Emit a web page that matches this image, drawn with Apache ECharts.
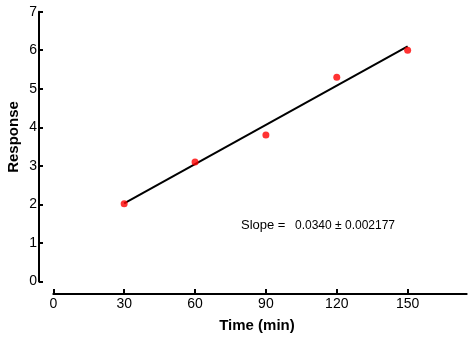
<!DOCTYPE html>
<html><head><meta charset="utf-8">
<script src="https://cdn.jsdelivr.net/npm/echarts@6/dist/echarts.min.js"></script>
<style>html,body{margin:0;padding:0;background:#fff}#c{width:472px;height:341px}</style>
</head><body><div id="c"></div>
<script>
var timeValues = [30, 60, 90, 120, 150];
var responseValues = [2.02, 3.1, 3.8, 5.3, 6.0];
var fitX = [30, 150];
var fitY = [2.03, 6.1];
var xTicks = [0, 30, 60, 90, 120, 150];
var slopeLabel = 'Slope =';
var slopeValue = '0.0340 ± 0.002177';
var xTitle = 'Time (min)';
var yTitle = 'Response';

var font = 'Liberation Sans, Arial, sans-serif';
var chart = echarts.init(document.getElementById('c'), null, {renderer: 'canvas'});
chart.setOption({
  animation: false,
  backgroundColor: '#fff',
  grid: {left: 53.3, right: 5.3, top: 11.7, bottom: 59.5, containLabel: false, outerBoundsMode: 'none'},
  xAxis: {
    type: 'value', min: 0, max: 175, offset: 12.5,
    name: xTitle, nameLocation: 'middle', nameGap: 24,
    nameTextStyle: {fontFamily: font, fontSize: 15, fontWeight: 'bold', color: '#000', padding: [0, 6, 0, 0]},
    axisLine: {show: true, onZero: false, lineStyle: {color: '#000', width: 2}},
    axisTick: {show: true, inside: true, length: 5, lineStyle: {color: '#000', width: 2}, customValues: xTicks},
    axisLabel: {color: '#000', fontFamily: font, fontSize: 14, margin: 3, customValues: xTicks},
    splitLine: {show: false}
  },
  yAxis: {
    type: 'value', min: 0, max: 7, interval: 1, offset: 14.3,
    axisLine: {show: true, onZero: false, lineStyle: {color: '#000', width: 2}},
    axisTick: {show: true, inside: true, length: 4, lineStyle: {color: '#000', width: 2}},
    axisLabel: {color: '#000', fontFamily: font, fontSize: 14, margin: 2},
    splitLine: {show: false}
  },
  series: [
    {type: 'line', data: fitX.map(function (x, i) { return [x, fitY[i]]; }),
     showSymbol: false, symbol: 'none', lineStyle: {color: '#000', width: 2}, z: 2},
    {type: 'scatter', data: timeValues.map(function (x, i) { return [x, responseValues[i]]; }),
     symbolSize: 7, itemStyle: {color: '#ff0000'}, z: 3}
  ],
  graphic: [
    {type: 'text', x: 14, y: 137, rotation: Math.PI / 2,
     style: {text: yTitle, fontFamily: font, fontSize: 15, fontWeight: 'bold', fill: '#000', align: 'center', verticalAlign: 'middle'}},
    {type: 'text', left: 241, top: 219,
     style: {text: slopeLabel, fontFamily: font, fontSize: 13, fill: '#000'}},
    {type: 'text', left: 295, top: 220,
     style: {text: slopeValue, fontFamily: font, fontSize: 12, fill: '#000'}}
  ]
});
</script></body></html>
